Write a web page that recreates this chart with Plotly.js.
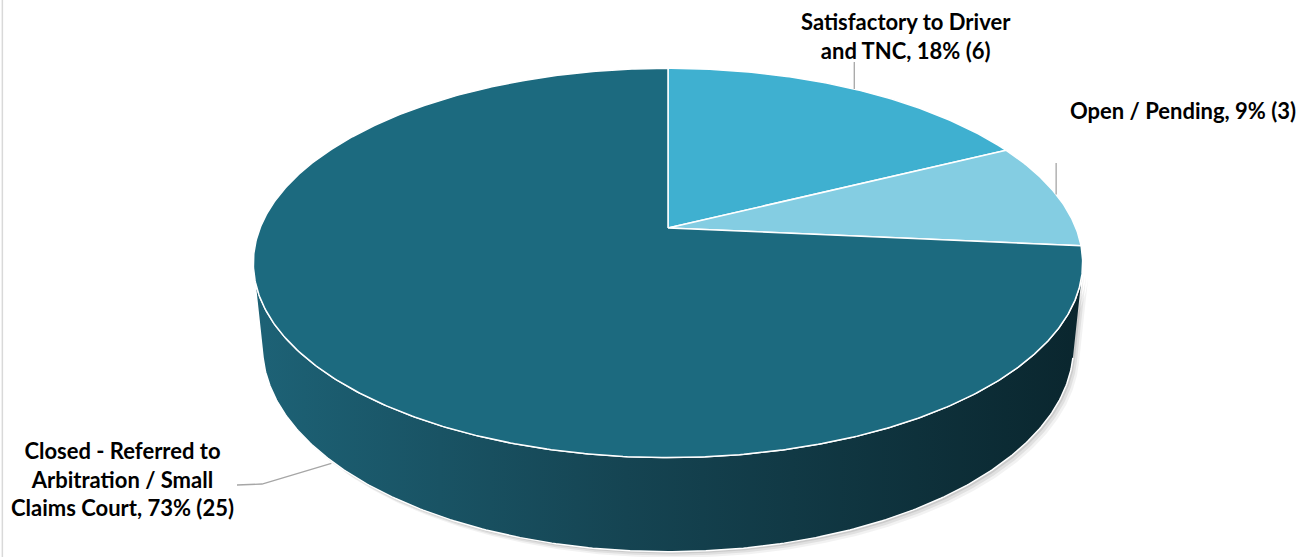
<!DOCTYPE html>
<html>
<head>
<meta charset="utf-8">
<script src="https://cdn.plot.ly/plotly-3.0.1.min.js"></script>
<style>html,body{margin:0;padding:0;background:#fff;}#chart{width:1313px;height:557px;}</style>
</head>
<body>
<div id="chart"></div>
<script>
// ---- data ----
const categories = ['Satisfactory to Driver and TNC', 'Open / Pending', 'Closed - Referred to Arbitration / Small Claims Court'];
const values = [6, 3, 25];
const percentLabels = ['18%', '9%', '73%'];
const labelTexts = [
  'Satisfactory to Driver<br>and TNC, 18% (6)',
  'Open / Pending, 9% (3)',
  'Closed - Referred to<br>Arbitration / Small<br>Claims Court, 73% (25)'
];
const sliceColors = ['#3fb0d0', '#84cde2', '#1c6a7f'];

// ---- 3D pie geometry (style) ----
const W = 1313, Hh = 557;
const cx = 668, cy = 228;
const alpha = 27.5 * Math.PI / 180;
const camL = 4.94, focal = 2015, depth = 0.233;
const sinA = Math.sin(alpha), cosA = Math.cos(alpha);

function proj(thetaDeg, z) {
  const t = thetaDeg * Math.PI / 180;
  const X = Math.sin(t), Y = Math.cos(t);
  const d = camL + Y * cosA - z * sinA;
  return [cx + focal * X / d, cy - focal * (Y * sinA + z * cosA) / d];
}
function arc(a0, a1, z) {
  const n = Math.max(2, Math.ceil(Math.abs(a1 - a0) * 2));
  const xs = [], ys = [];
  for (let i = 0; i <= n; i++) {
    const p = proj(a0 + (a1 - a0) * i / n, z);
    xs.push(p[0]); ys.push(p[1]);
  }
  return [xs, ys];
}

const total = values.reduce((a, b) => a + b, 0);
const starts = [], ends = [];
let acc = 0;
values.forEach(v => { starts.push(acc / total * 360); acc += v; ends.push(acc / total * 360); });

const traces = [];

// silhouette angle of the cylinder
const thS = Math.acos(-1 / (camL * cosA)) * 180 / Math.PI;
const topFront = arc(thS, 360 - thS, 0);
const botFront = arc(360 - thS, thS, -depth);

// shadow layers
[[6, 6, 0.05], [4, 4, 0.07], [2, 2, 0.09]].forEach(s => {
  traces.push({
    type: 'scatter', mode: 'lines', hoverinfo: 'skip', showlegend: false,
    x: topFront[0].concat(botFront[0]).map(v => v + s[0]),
    y: topFront[1].concat(botFront[1]).map(v => v + s[1]),
    fill: 'toself', fillcolor: 'rgba(0,0,0,' + s[2] + ')', line: {width: 0}
  });
});

// side wall
traces.push({
  type: 'scatter', mode: 'lines', hoverinfo: 'skip', showlegend: false,
  x: topFront[0].concat(botFront[0]), y: topFront[1].concat(botFront[1]),
  fill: 'toself',
  fillgradient: {type: 'horizontal', colorscale: [[0, '#1d6276'], [0.45, '#154452'], [1, '#0a262e']]},
  line: {color: '#ffffff', width: 1.5}
});

// top face slices
values.forEach((v, i) => {
  const a = arc(starts[i], ends[i], 0);
  traces.push({
    type: 'scatter', mode: 'lines', hoverinfo: 'skip', showlegend: false,
    name: categories[i],
    x: [cx].concat(a[0], [cx]), y: [cy].concat(a[1], [cy]),
    fill: 'toself', fillcolor: sliceColors[i],
    line: {color: '#ffffff', width: 1.5}
  });
});

// leader lines
const mid = i => (starts[i] + ends[i]) / 2;
const p0 = proj(mid(0), 0), p1 = proj(mid(1), 0), p2 = proj(mid(2), -depth);
const leaders = [
  [[p0[0], p0[1]], [p0[0], 62]],
  [[p1[0], p1[1]], [p1[0], 163]],
  [[p2[0] - 2, p2[1] + 1], [262, 484], [237, 485]]
];
leaders.forEach(pts => {
  traces.push({
    type: 'scatter', mode: 'lines', hoverinfo: 'skip', showlegend: false,
    x: pts.map(p => p[0]), y: pts.map(p => p[1]),
    line: {color: '#a6a6a6', width: 1.3}
  });
});

const labelPos = [[906, 36, 'center'], [1183, 110, 'center'], [122, 479, 'center']];
const annotations = labelTexts.map((t, i) => ({
  x: labelPos[i][0], y: labelPos[i][1], xref: 'x', yref: 'y',
  text: t, showarrow: false, align: labelPos[i][2],
  font: {family: 'Lato, "Open Sans", sans-serif', size: 22, color: '#000000', weight: 'bold'}
}));

const layout = {
  width: W, height: Hh,
  margin: {l: 0, r: 0, t: 0, b: 0},
  paper_bgcolor: '#ffffff', plot_bgcolor: '#ffffff',
  showlegend: false,
  xaxis: {range: [0, W], visible: false, fixedrange: true},
  yaxis: {range: [Hh, 0], visible: false, fixedrange: true},
  annotations: annotations,
  shapes: [{type: 'line', xref: 'paper', yref: 'paper', x0: 0.0018, x1: 0.0018, y0: 0, y1: 1,
            line: {color: '#d9d9d9', width: 1.5}}]
};

Plotly.newPlot('chart', traces, layout, {displayModeBar: false, staticPlot: true});
</script>
</body>
</html>
